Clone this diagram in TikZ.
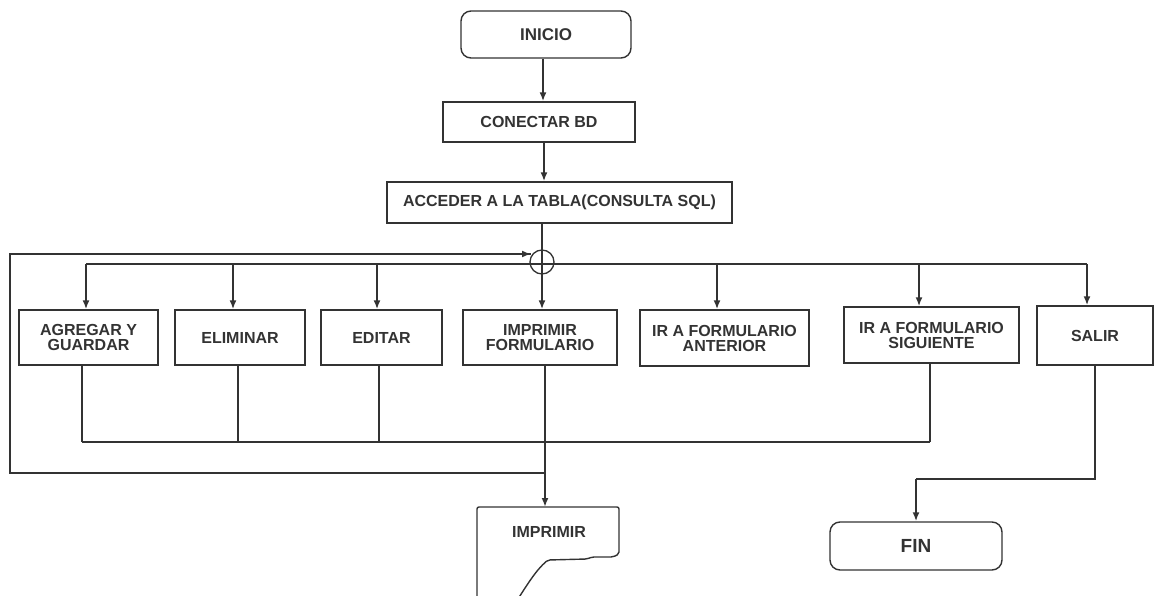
\documentclass[tikz,border=0pt]{standalone}
\usepackage{fontspec}
\setmainfont{Liberation Sans}
\usetikzlibrary{arrows.meta,calc}
\definecolor{ink}{HTML}{333333}
\begin{document}
\begin{tikzpicture}[x=1pt,y=-1pt,
  every node/.style={font=\bfseries\fontsize{16}{15}\selectfont, text=ink, align=center, inner sep=0pt},
  proc/.style={draw=ink, line width=1.4pt},
  term/.style={draw=ink, line width=1.4pt, rounded corners=10pt},
  flow/.style={draw=ink, line width=2.6pt, -{Latex[length=9pt,width=7pt]}},
  link/.style={draw=ink, line width=1.3pt},
]
\useasboundingbox (0,0) rectangle (1154,596);

% main sequence
\node[term, minimum width=170pt, minimum height=47pt, font=\bfseries\fontsize{17}{16}\selectfont] (inicio) at (546,34.5) {INICIO};
\node[proc, minimum width=192pt, minimum height=40pt] (conectar) at (539,122) {CONECTAR BD};
\node[proc, minimum width=345pt, minimum height=41pt] (acceder) at (559.5,202.5) {ACCEDER A LA TABLA(CONSULTA SQL)};
\node[draw=ink, circle, line width=1.3pt, minimum size=24pt] (junc) at (542,262) {};

% options
\node[proc, minimum width=139pt, minimum height=55pt] (agregar) at (88.5,337.5) {AGREGAR Y\\GUARDAR};
\node[proc, minimum width=130pt, minimum height=55pt] (eliminar) at (240,337.5) {ELIMINAR};
\node[proc, minimum width=121pt, minimum height=55pt] (editar) at (381.5,337.5) {EDITAR};
\node[proc, minimum width=154pt, minimum height=55pt] (impf) at (540,337.5) {IMPRIMIR\\FORMULARIO};
\node[proc, minimum width=169pt, minimum height=56pt] (anterior) at (724.5,338) {IR A FORMULARIO\\ANTERIOR};
\node[proc, minimum width=175pt, minimum height=56pt] (siguiente) at (931.5,335) {IR A FORMULARIO\\SIGUIENTE};
\node[proc, minimum width=116pt, minimum height=59pt] (salir) at (1095,335.5) {SALIR};

% end and print document
\node[term, minimum width=172pt, minimum height=48pt, font=\bfseries\fontsize{19}{18}\selectfont] (fin) at (916,546) {FIN};
\draw[draw=ink, line width=1.4pt, rounded corners=2pt]
  (477,602) -- (477,507) -- (619,507) -- (619,554) -- (613,557) -- (592,557) -- (587,559) -- (548,560)
  [sharp corners] .. controls (536,570) and (527,585) .. (516,602);
\node (doc) at (549,532) {IMPRIMIR};
\coordinate (doctop) at (546,507);

% top arrows
\coordinate (a1) at ([xshift=-3pt]inicio.south);
\draw[flow] (a1) -- (a1 |- conectar.north);
\coordinate (a2) at ([xshift=5pt]conectar.south);
\draw[flow] (a2) -- (a2 |- acceder.north);
\draw[flow] (junc |- acceder.south) -- (junc |- impf.north);

% distribution bus
\coordinate (busL) at (86,264);
\coordinate (busR) at (1087,264);
\draw[link] (busL) -- (busR);
\foreach \n/\x in {agregar/86, eliminar/233, editar/377, anterior/717, siguiente/919, salir/1087} {
  \coordinate (t) at (\x,264);
  \draw[flow] (t) -- (t |- \n.north);
}

% collecting line
\coordinate (colL) at (82,442);
\coordinate (colR) at (930,442);
\draw[link] (colL) -- (colR);
\foreach \n/\x in {agregar/82, eliminar/238, editar/379, siguiente/930} {
  \coordinate (d) at (\x,442);
  \draw[link] (d |- \n.south) -- (d);
}
\coordinate (pf) at (545,442);
\draw[link] (pf |- impf.south) -- (pf);
\draw[flow] (pf) -- (pf |- doctop);

% return loop
\coordinate (lb) at (545,473);
\coordinate (lt) at (10,254);
\coordinate (lj) at (531,254);
\draw[link] (lb) -| (lt) -- (lj);
\draw[flow] ($(lj)+(-30,0)$) -- (lj);

% exit
\coordinate (sb) at (1095,479);
\draw[link] (salir.south) |- (fin.north |- sb);
\draw[flow] (fin.north |- sb) -- (fin.north);
\end{tikzpicture}
\end{document}
